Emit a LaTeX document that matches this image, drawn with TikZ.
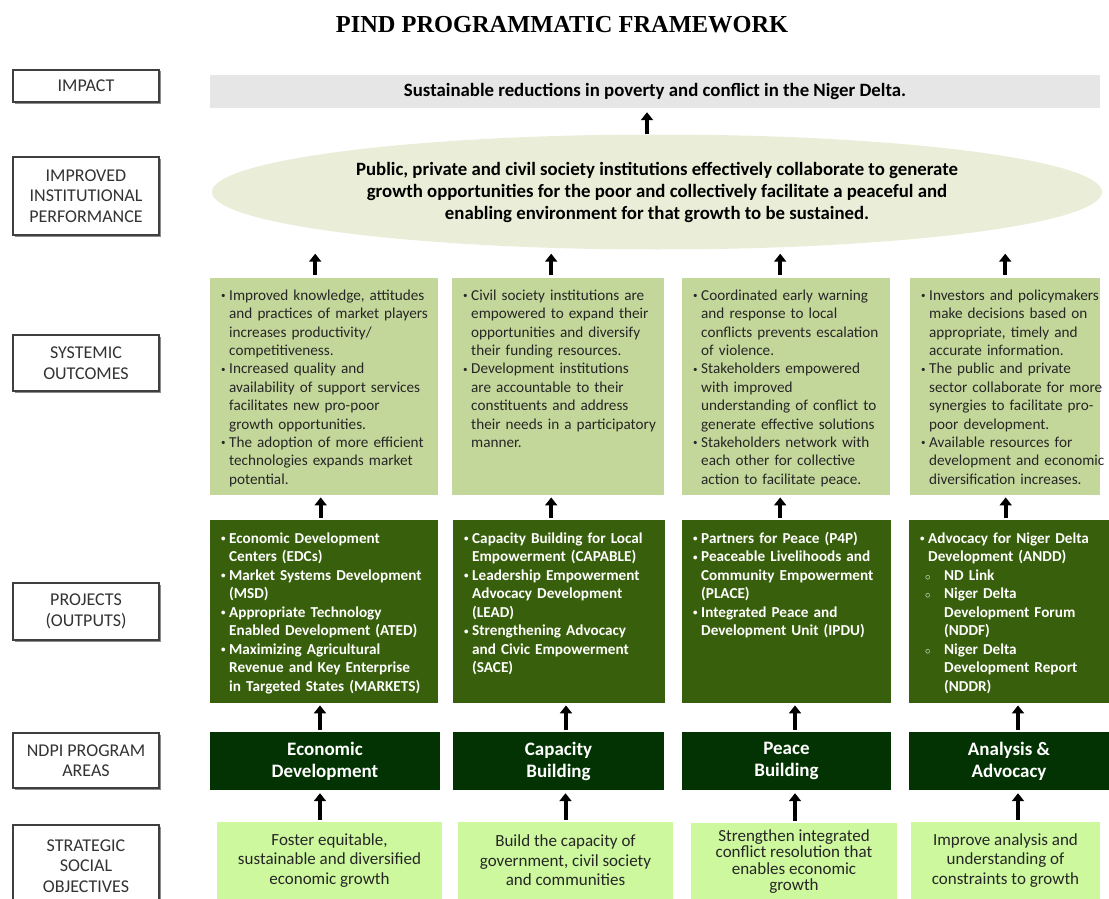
\documentclass[tikz,border=0pt]{standalone}
\usepackage{fontspec}
\setmainfont{Carlito}
\newfontfamily\titlefont{Liberation Serif}
\usetikzlibrary{arrows.meta,shapes.geometric,shadows}

\definecolor{impgray}{HTML}{E6E6E6}
\definecolor{ellgreen}{HTML}{EAEED8}
\definecolor{outgreen}{HTML}{C4D79B}
\definecolor{prjgreen}{HTML}{385F0B}
\definecolor{areagreen}{HTML}{033302}
\definecolor{objgreen}{HTML}{CDF89E}
\definecolor{lblgray}{HTML}{3F3F3F}

\newcommand{\bu}{\makebox[8pt][l]{\raisebox{1.5pt}{\fontsize{9}{9}\selectfont\textbullet}}}
\newcommand{\ind}{\hspace*{8pt}}
\newcommand{\subi}{\hspace*{5pt}\makebox[19pt][l]{\fontsize{11}{11}\selectfont$\circ$}}
\newcommand{\subind}{\hspace*{24pt}}
\newcommand{\rows}[1]{\begin{tabular}[t]{@{}l@{}}#1\end{tabular}}

\tikzset{
  lbl/.style={draw=lblgray, line width=1.1pt, fill=white, minimum width=146pt,
    align=center, text=black!80, font=\fontsize{18}{20.5}\selectfont,
    drop shadow={shadow xshift=1.5pt, shadow yshift=-1.5pt, fill=black!45, opacity=1}},
  impbar/.style={fill=impgray, minimum width=890pt, minimum height=33pt,
    font=\bfseries\fontsize{18.8}{22}\selectfont},
  ell/.style={ellipse, fill=ellgreen, inner sep=0pt, minimum width=890pt,
    minimum height=115pt, align=center, font=\bfseries\fontsize{18.8}{22}\selectfont},
  outbox/.style={fill=outgreen, anchor=north west, inner xsep=11pt, inner ysep=0pt,
    text width=#1, align=left, text height=22pt, text depth=195pt,
    text=black!85, font=\fontsize{15.2}{18.4}\selectfont},
  prjbox/.style={fill=prjgreen, anchor=north west, inner xsep=11pt, inner ysep=0pt,
    text width=#1, align=left, text height=23pt, text depth=160pt,
    text=white, font=\bfseries\fontsize{15.2}{18.5}\selectfont},
  area/.style={fill=areagreen, minimum height=58pt, align=center, text=white,
    font=\bfseries\fontsize{19}{22}\selectfont},
  obj/.style={fill=objgreen, minimum height=77pt, align=center, text=black!85,
    font=\fontsize{17}{19.5}\selectfont},
  up/.style={line width=4pt, -{Triangle[width=12pt,length=8pt]},
    shorten <=2pt, shorten >=2pt}
}

\begin{document}
\begin{tikzpicture}[x=1pt,y=-1pt]
  \path[use as bounding box, clip] (0,0) rectangle (1109,899);

  \node[font=\titlefont\bfseries\fontsize{24.4}{28}\selectfont] (title) at (562,25) {PIND PROGRAMMATIC FRAMEWORK};

  % left column
  \node[lbl, minimum height=32pt] (limp) at (86,86) {IMPACT};
  \node[lbl, minimum height=78pt] (linst) at (86,196) {IMPROVED\\INSTITUTIONAL\\PERFORMANCE};
  \node[lbl, minimum height=56pt] (lsys) at (86,363) {SYSTEMIC\\OUTCOMES};
  \node[lbl, minimum height=57pt] (lprj) at (86,611.5) {PROJECTS\\(OUTPUTS)};
  \node[lbl, minimum height=55pt] (lndpi) at (86,760.5) {NDPI PROGRAM\\AREAS};
  \node[lbl, minimum height=82pt] (lobj) at (86,866) {STRATEGIC\\SOCIAL\\OBJECTIVES};

  % impact and institutional performance
  \node[impbar] (imp) at (655,91.5) {Sustainable reductions in poverty and conflict in the Niger Delta.};
  \node[ell] (ell) at (657,192) {Public, private and civil society institutions effectively collaborate to generate\\
    growth opportunities for the poor and collectively facilitate a peaceful and\\
    enabling environment for that growth to be sustained.};

  % systemic outcomes
  \node[outbox=206pt] (out1) at (210,278) {\rows{\bu Improved knowledge, attitudes\\
    \ind and practices of market players\\
    \ind increases productivity/\\
    \ind competitiveness.\\
    \bu Increased quality and\\
    \ind availability of support services\\
    \ind facilitates new pro-poor\\
    \ind growth opportunities.\\
    \bu The adoption of more efficient\\
    \ind technologies expands market\\
    \ind potential.}};
  \node[outbox=190pt] (out2) at (452,278) {\rows{\bu Civil society institutions are\\
    \ind empowered to expand their\\
    \ind opportunities and diversify\\
    \ind their funding resources.\\
    \bu Development institutions\\
    \ind are accountable to their\\
    \ind constituents and address\\
    \ind their needs in a participatory\\
    \ind manner.}};
  \node[outbox=186pt] (out3) at (682,278) {\rows{\bu Coordinated early warning\\
    \ind and response to local\\
    \ind conflicts prevents escalation\\
    \ind of violence.\\
    \bu Stakeholders empowered\\
    \ind with improved\\
    \ind understanding of conflict to\\
    \ind generate effective solutions\\
    \bu Stakeholders network with\\
    \ind each other for collective\\
    \ind action to facilitate peace.}};
  \node[outbox=168pt] (out4) at (910,278) {\rows{\bu Investors and policymakers\\
    \ind make decisions based on\\
    \ind appropriate, timely and\\
    \ind accurate information.\\
    \bu The public and private\\
    \ind sector collaborate for more\\
    \ind synergies to facilitate pro-\\
    \ind poor development.\\
    \bu Available resources for\\
    \ind development and economic\\
    \ind diversification increases.}};

  % projects (outputs)
  \node[prjbox=206pt] (prj1) at (210,520) {\rows{\bu Economic Development\\
    \ind Centers (EDCs)\\
    \bu Market Systems Development\\
    \ind (MSD)\\
    \bu Appropriate Technology\\
    \ind Enabled Development (ATED)\\
    \bu Maximizing Agricultural\\
    \ind Revenue and Key Enterprise\\
    \ind in Targeted States (MARKETS)}};
  \node[prjbox=190pt] (prj2) at (453,520) {\rows{\bu Capacity Building for Local\\
    \ind Empowerment (CAPABLE)\\
    \bu Leadership Empowerment\\
    \ind Advocacy Development\\
    \ind (LEAD)\\
    \bu Strengthening Advocacy\\
    \ind and Civic Empowerment\\
    \ind (SACE)}};
  \node[prjbox=187pt] (prj3) at (682,520) {\rows{\bu Partners for Peace (P4P)\\
    \bu Peaceable Livelihoods and\\
    \ind Community Empowerment\\
    \ind (PLACE)\\
    \bu Integrated Peace and\\
    \ind Development Unit (IPDU)}};
  \node[prjbox=178pt] (prj4) at (909,520) {\rows{\bu Advocacy for Niger Delta\\
    \ind Development (ANDD)\\
    \subi ND Link\\
    \subi Niger Delta\\
    \subind Development Forum\\
    \subind (NDDF)\\
    \subi Niger Delta\\
    \subind Development Report\\
    \subind (NDDR)}};

  % program areas
  \node[area, minimum width=230pt] (ar1) at (325,761) {Economic\\Development};
  \node[area, minimum width=211pt] (ar2) at (558.5,761) {Capacity\\Building};
  \node[area, minimum width=209pt] (ar3) at (786.5,761) {Peace\\Building};
  \node[area, minimum width=200pt] (ar4) at (1009,761) {Analysis \&\\Advocacy};

  % strategic social objectives
  \node[obj, minimum width=225pt] (obj1) at (329.5,860.5) {Foster equitable,\\sustainable and diversified\\economic growth};
  \node[obj, minimum width=215pt] (obj2) at (565.5,860.5) {Build the capacity of\\government, civil society\\and communities};
  \node[obj, minimum width=206pt, font=\fontsize{17}{16.5}\selectfont] (obj3) at (794,861.5) {Strengthen integrated\\conflict resolution that\\enables economic\\growth};
  \node[obj, minimum width=189pt] (obj4) at (1005.5,860.5) {Improve analysis and\\understanding of\\constraints to growth};

  % arrows
  \draw[up, shorten <=0pt, shorten >=4pt] ([xshift=-10pt]ell.north) -- ([xshift=-10pt]ell.north |- imp.south);
  \foreach \i/\a/\b/\c/\d in {1/-9/-3.5/-5/-9.5, 2/-7/-8/7.5/0, 3/-6/-6.5/8.5/1, 4/0/-3.5/9/12.5} {
    \draw[up, shorten <=3pt, shorten >=4pt] ([xshift=\a pt]out\i.north) -- ([xshift=\a pt]out\i.north |- ell.south);
    \draw[up] ([xshift=\b pt]prj\i.north) -- ([xshift=\b pt]prj\i.north |- out\i.south);
    \draw[up] ([xshift=\c pt]ar\i.north) -- ([xshift=\c pt]ar\i.north |- prj\i.south);
    \draw[up, shorten >=3pt] ([xshift=\d pt]obj\i.north) -- ([xshift=\d pt]obj\i.north |- ar\i.south);
  }
\end{tikzpicture}
\end{document}
